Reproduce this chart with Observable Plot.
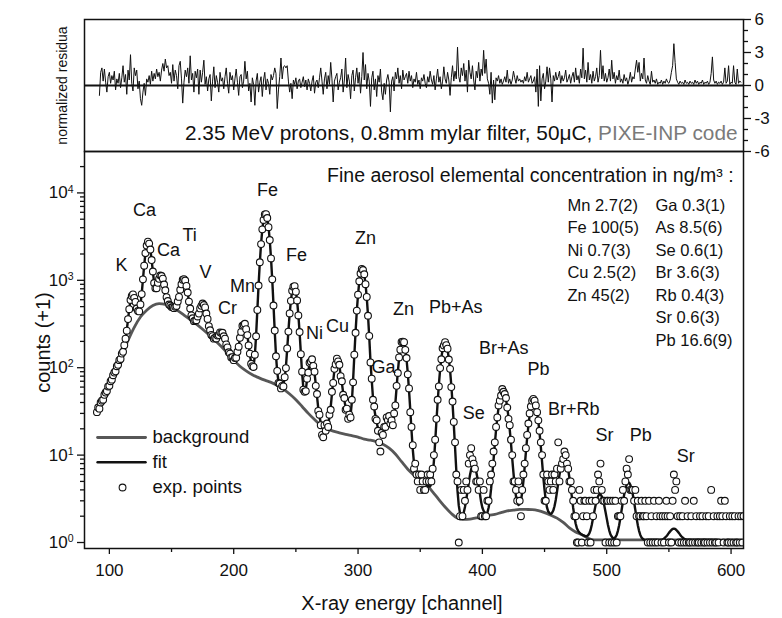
<!DOCTYPE html>
<html>
<head>
<meta charset="utf-8">
<script src="https://cdn.jsdelivr.net/npm/d3@7"></script>
<script src="https://cdn.jsdelivr.net/npm/@observablehq/plot@0.6"></script>
<style>
html,body{margin:0;padding:0;background:#fff;overflow:hidden;}
#chart{position:relative;width:782px;height:618px;background:#fff;}
#chart svg{position:absolute;left:0;top:0;background:transparent;}
</style>
</head>
<body>
<div id="chart"></div>
<script>
// ---------------- DATA ----------------
// experimental points: counts+1 for channels 90..610
const EXP_FIRST_CHANNEL = 90;
const expCounts = [
31,35,34,40,42,43,49,52,54,61,
62,70,73,82,88,91,104,108,122,126,
145,152,181,215,265,360,468,595,662,690,
630,566,476,445,441,530,695,1025,1470,2045,
2500,2770,2630,2250,1705,1262,930,812,812,935,
1040,1135,1118,1046,896,770,642,580,528,515,
494,492,480,497,508,572,646,780,900,1015,
1033,995,862,724,571,476,396,368,341,347,
350,386,416,477,510,542,521,489,417,362,
299,268,237,230,215,220,216,233,236,254,
249,251,229,215,185,171,150,145,131,132,
122,129,130,152,174,220,257,302,309,318,
276,236,180,145,111,104,102,141,229,458,
872,1610,2595,3830,4905,5670,5710,5165,4055,2890,
1780,1025,515,266,135,92,67,66,58,62,
61,78,99,166,259,418,582,760,845,858,
742,588,396,256,143,90,56,53,54,75,
88,114,118,125,105,90,62,50,32,29,
22,17,16,22,19,23,21,29,33,53,
67,97,109,127,118,108,80,70,49,45,
33,34,26,29,27,43,68,141,251,450,
684,975,1195,1348,1310,1173,903,645,393,231,
115,75,43,36,26,25,19,14,11,18,
17,21,21,27,25,28,23,25,22,30,
37,62,87,131,161,197,199,196,160,129,
84,58,31,21,13,7,8,6,5,6,
4,6,5,4,4,5,6,5,6,5,
7,10,15,26,43,61,99,125,167,180,
196,181,165,124,97,60,41,24,14,6,
5,1,2,4,2,4,3,5,4,8,
10,12,9,8,7,5,5,4,5,2,
2,4,2,2,3,3,5,6,8,11,
14,21,27,37,42,48,57,53,50,45,
35,26,22,15,10,5,5,4,3,5,
3,2,4,6,8,12,17,23,30,36,
42,44,42,37,31,25,19,14,10,6,
3,3,6,5,4,5,6,4,6,5,
7,14,5,7,8,9,11,10,8,7,
5,5,4,3,2,2,1,1,4,3,
1,2,3,3,2,1,3,1,3,2,
4,3,4,6,5,8,4,3,3,1,
3,3,1,3,1,3,1,3,1,2,
2,2,3,4,3,5,7,6,9,4,
4,4,3,4,2,3,2,2,3,2,
2,3,2,1,3,1,2,1,3,1,
2,1,3,2,1,2,1,2,3,2,
1,2,1,3,6,4,5,2,1,2,
1,2,1,3,1,2,1,1,2,1,
3,1,2,1,1,2,1,2,1,1,
2,1,2,1,4,1,2,1,1,2,
1,2,3,2,1,3,2,1,1,2,
1,2,1,2,1,1,2,1,2,1,2
];

// fitted spectrum for channels 90..610
const FIT_FIRST_CHANNEL = 90;
const fitCounts = [
31,33.5,36,38.5,41,44,47.5,51,55,59,
63,68.5,74,80,86.5,93,101,110,119,129,
141,156,178,212,269,356,472,587,668,685,
638,559,483,439,447,525,701,1017,1480,2031,
2513,2757,2646,2238,1713,1250,937,804,820,924,
1048,1127,1124,1038,904,764,649,574,532,510,
499,489,485,490,513,565,653,774,906,1007,
1040,988,868,717,577,470,401,363,346,342,
354,380,422,471,516,537,527,483,422,357,
303,264,241,226,219,216,220,228,240,250,
253,247,233,211,188,168,153,142,134,129,
125,126,133,149,177,216,261,298,313,314,
280,232,183,142,114,101,105,138,233,453,
880,1598,2612,3813,4929,5646,5733,5140,4077,2869,
1794,1012,522,261,139,89,70,63,60,60.5,
64,75,103,162,264,412,589,753,852,851,
749,582,402,251,147,87,59,51,57,72,
91,111,122,121.5,108.5,86.5,65,47,34.5,27.2,
23.7,22,21,20.6,20.6,21.1,22.8,27,35.5,50,
70,93.6,112.5,123,121,105,83,67,52,42,
35.6,31.8,28.4,26.5,28.8,40,71,137,256,443,
692,966,1204,1336,1320,1162,911,637,399,226,
118,72,45.6,34,28,23.7,20.3,17.6,16.8,16.9,
18,19.8,22.5,24.8,26.2,26.1,24.8,23.2,23.4,27.8,
39,59.7,90,127,165,193,203,192,164,125,
87,55,33,19.1,11.7,8.1,6.55,5.84,5.5,5.35,
5.2,5.08,4.96,4.84,4.72,4.6,4.47,4.37,4.39,4.74,
5.8,8.5,13.9,23.9,40,64,95,129,162,184.6,
192.5,184,161,128,94,63,39,22.5,12.4,6.75,
3.9,2.66,2.17,2.02,2.05,2.2,2.55,3.1,3.8,4.8,
5.9,6.9,7.5,7.7,7.3,6.5,5.5,4.5,3.6,2.9,
2.5,2.3,2.2,2.1,2.2,2.5,3.06,4.1,6.0,8.9,
13.4,19.4,26.9,35,43,49.2,52.7,52.7,49.3,43.1,
35.2,27,19.6,13.6,9.1,6.25,4.4,3.4,2.87,2.68,
2.74,3.04,3.7,5.05,7.3,10.8,15.7,21.7,28.3,34.5,
39.2,41.4,40.4,36.6,30.8,24.2,17.8,12.4,8.4,5.6,
4.0,3.0,2.5,2.26,2.17,2.12,2.18,2.32,2.6,3.07,
3.8,4.8,5.9,7.1,8.2,8.9,9.2,8.8,8.0,6.8,
5.5,4.3,3.3,2.5,2.0,1.65,1.46,1.36,1.3,1.26,
1.23,1.21,1.2,1.18,1.18,1.21,1.27,1.39,1.6,1.9,
2.25,2.66,3.05,3.37,3.56,3.56,3.37,3.05,2.66,2.25,
1.89,1.59,1.38,1.24,1.17,1.12,1.12,1.15,1.22,1.36,
1.58,1.91,2.36,2.91,3.52,4.11,4.57,4.83,4.83,4.57,
4.11,3.52,2.91,2.36,1.91,1.58,1.36,1.22,1.14,1.1,
1.08,1.07,1.07,1.07,1.07,1.07,1.07,1.07,1.07,1.07,
1.07,1.07,1.07,1.07,1.07,1.08,1.11,1.14,1.18,1.23,
1.29,1.34,1.39,1.43,1.44,1.43,1.39,1.34,1.29,1.23,
1.18,1.14,1.11,1.09,1.08,1.07,1.07,1.07,1.07,1.07,
1.07,1.07,1.07,1.07,1.07,1.07,1.07,1.07,1.07,1.07,
1.07,1.07,1.07,1.07,1.07,1.07,1.06,1.06,1.06,1.06,
1.06,1.06,1.06,1.06,1.06,1.06,1.06,1.06,1.06,1.06,
1.06,1.06,1.06,1.06,1.06,1.06,1.06,1.06,1.06,1.06,1.06
];

// background curve
const bgChannels = [90,95,100,105,110,115,120,125,130,135,140,145,150,155,160,165,170,175,180,185,190,195,200,205,210,215,220,225,230,235,240,245,250,255,260,265,270,275,280,285,290,295,300,305,310,315,320,325,330,335,340,345,350,355,360,365,370,375,380,385,390,395,400,405,410,415,420,425,430,435,440,445,450,455,460,465,470,475,480,485,490,500,550,585,610];
const bgCounts = [31,44,63,93,140,205,290,380,455,515,540,530,495,450,400,355,315,275,238,205,175,147,122,104,92,83,77,72,68,63,57,50,43,36,30,25.5,22,20,18.8,18,17.3,16.7,16.1,15.2,14.8,14.2,13.3,12,10.3,8.4,6.9,5.9,5.2,4.6,3.8,3.1,2.55,2.15,1.9,1.84,1.85,1.91,1.95,2.05,2.1,2.2,2.3,2.35,2.4,2.39,2.38,2.32,2.2,2.05,1.9,1.7,1.47,1.32,1.23,1.12,1.07,1.07,1.07,1.07,1.06];

// normalized residuals for channels 92..608
const RES_FIRST_CHANNEL = 92;
const residuals = [
-0.9,1.2,1.6,0.4,1.5,0.3,-0.6,0.8,1.2,0.2,
0.9,0.5,1.3,-0.4,0.6,0.2,1.1,-0.2,0.7,1.8,
0.3,1.0,-0.8,1.4,0.5,2.8,0.2,-0.5,1.6,0.9,
1.4,-0.3,0.4,-1.2,-1.8,-0.6,0.2,-0.9,0.6,0.3,
0.9,0.1,1.3,0.4,1.1,0.6,1.5,0.8,1.2,0.4,
1.4,2.0,1.3,2.4,1.6,1.8,0.9,1.2,0.2,1.9,
0.4,1.4,0.9,-0.3,1.8,2.2,0.6,-1.6,0.3,1.4,
0.8,1.6,0.2,2.7,0.5,1.1,-0.6,1.3,0.7,1.5,
-0.8,1.4,0.3,1.2,2.3,0.1,0.8,-0.5,0.6,1.0,
-1.4,0.4,1.7,-0.2,0.9,0.3,-0.6,1.2,0.4,0.7,
-0.3,0.8,1.6,0.2,-0.7,1.2,0.5,0.9,-0.4,0.6,
1.5,0.3,-0.9,0.8,1.0,-0.2,0.4,2.2,0.6,1.3,
-0.5,0.2,-1.5,0.7,0.1,-1.8,0.4,1.1,-0.6,0.3,
0.8,-1.0,0.5,1.2,-0.4,0.6,0.2,-0.8,1.0,0.5,
0.9,1.6,1.1,-2.1,-0.4,0.8,2.5,0.6,1.7,1.8,
1.6,1.8,0.4,-0.6,0.2,-1.2,0.5,0.1,0.7,-0.3,
0.4,0.6,-0.2,0.3,0.8,-0.1,0.5,-0.4,0.6,0.2,
-0.5,0.4,0.9,-0.7,0.3,0.5,-0.2,0.7,1.6,0.4,
-0.8,0.6,1.2,-0.3,0.9,0.1,2.1,0.6,-1.5,0.4,
0.8,1.1,-0.4,0.3,0.7,1.5,-0.6,0.5,2.5,-0.2,
1.0,0.4,-1.2,0.9,1.4,-0.5,0.7,1.6,0.2,1.2,
-0.7,0.8,3.0,0.5,1.9,-0.3,1.1,0.4,-1.9,0.7,
1.3,-0.4,0.6,-1.0,0.9,0.3,1.5,-0.6,-1.3,0.2,
-0.8,0.5,1.0,0.3,-2.4,0.4,0.8,-0.5,1.2,0.6,
1.6,0.2,0.9,-0.3,1.4,0.5,0.8,1.1,0.2,1.3,
0.4,0.9,-0.2,0.6,0.3,1.2,0.1,0.5,-0.3,0.7,
0.4,1.0,0.2,-0.2,0.8,0.3,1.3,0.5,0.1,0.9,
-0.4,0.6,1.5,0.3,0.8,-0.3,0.4,1.7,0.6,0.2,
1.2,0.5,-0.9,0.7,1.8,0.4,1.3,0.6,3.5,0.8,
0.3,1.6,0.9,2.0,0.4,1.4,-0.6,2.3,1.2,0.6,
1.8,0.5,-0.4,1.3,0.7,2.1,0.4,1.5,0.9,3.2,
1.1,2.4,0.6,0.2,-0.8,1.2,-1.6,0.5,-1.3,0.7,
0.4,0.9,0.2,0.6,0.1,0.4,0.8,0.3,1.4,0.2,
0.6,0.1,0.5,1.3,0.7,0.2,0.9,0.4,0.6,0.3,
0.5,0.2,0.8,0.4,1.2,0.3,0.6,0.9,0.2,0.4,
0.8,-0.6,1.5,-1.9,1.8,-1.4,0.6,1.1,-0.3,0.4,
1.7,0.3,1.6,0.6,-1.5,0.9,0.4,1.2,0.5,0.8,
1.3,0.2,0.9,0.4,0.7,1.4,0.3,0.6,1.0,0.2,
0.8,1.2,0.3,1.6,0.5,0.9,0.2,1.5,0.7,3.4,
0.6,1.4,0.3,2.1,0.5,1.0,0.2,1.3,0.4,0.8,
1.6,0.3,0.9,3.2,0.6,1.8,0.4,1.1,0.3,0.7,
1.5,0.4,2.3,0.6,1.2,0.2,0.9,0.5,1.4,0.3,
0.6,0.2,1.0,0.4,0.7,0.1,0.5,1.2,0.3,0.8,
0.6,1.5,2.3,1.2,2.1,0.4,1.1,0.6,2.5,0.5,
0.2,0.9,0.4,0.1,1.3,0.3,0.5,0.2,0.6,0.1,
0.3,0.2,0.5,0.1,0.4,0.2,0.6,0.3,0.2,0.5,
1.2,1.8,3.8,2.1,0.6,0.3,0.1,0.4,0.2,0.3,
0.1,0.5,0.2,0.3,0.1,0.4,0.2,0.3,0.1,0.5,
0.2,0.4,0.1,0.3,0.2,0.5,0.1,0.3,0.2,0.4,
0.1,0.3,1.1,2.6,0.5,0.2,0.4,0.1,0.3,0.2,
0.4,0.1,0.3,1.6,0.2,0.4,1.8,0.1,0.3,0.2,
1.8,0.3,0.1,1.5,0.2,0.4,0.3
];

// peak labels (text, channel, counts at label centre)
const peakNames    = ["K","Ca","Ca","Ti","V","Cr","Mn","Fe","Fe","Ni","Cu","Zn","Zn","Ga","Pb+As","Br+As","Pb","Se","Br+Rb","Sr","Pb","Sr"];
const peakChannels = [109.8,128.3,147.6,164.5,177.3,195,207.1,227.2,250.6,265,283.5,306,336.6,320.5,378.5,417.1,445.2,393,473.4,498.3,527.3,563.5];
const peakLabelY   = [1476,6290,2193,3258,1228,476,849,10650,1923,246,296,3007,463,100.5,489,166,95,29.9,33.2,16.8,16.8,9.6];

// concentration table
const concCol1 = ["Mn 2.7(2)","Fe 100(5)","Ni 0.7(3)","Cu 2.5(2)","Zn 45(2)"];
const concCol2 = ["Ga 0.3(1)","As 8.5(6)","Se 0.6(1)","Br 3.6(3)","Rb 0.4(3)","Sr 0.6(3)","Pb 16.6(9)"];
const concRowY = [7178,3966,2193,1212,670,370,205];

// ticks
const xMajorTicks = [100,200,300,400,500,600];
const xMinorTicks = [150,250,350,450,550];
const yMajorTicks = [1,10,100,1000,10000];
const yMinorTicks = [2,3,4,5,6,7,8,9,20,30,40,50,60,70,80,90,200,300,400,500,600,700,800,900,2000,3000,4000,5000,6000,7000,8000,9000,20000];
const resMajorTicks = [-6,-3,0,3,6];
const resMinorTicks = [-5,-4,-2,-1,1,2,4,5];

// texts
const captionMain = "2.35 MeV protons, 0.8mm mylar filter, 50\u03BCC, ";
const captionCode = "PIXE-INP code";
const concTitle = "Fine aerosol elemental concentration in ng/m\u00B3 :";

// ---------------- BUILD ----------------
const FONT = "'Liberation Sans', Arial, Helvetica, sans-serif";
const X_DOMAIN = [80, 610];
const Y_DOMAIN = [0.854, 29770];
const INK = "#111";

const expData = expCounts.map((v, i) => ({ch: EXP_FIRST_CHANNEL + i, v}));
const fitData = fitCounts.map((v, i) => ({ch: FIT_FIRST_CHANNEL + i, v}));
const bgData = bgChannels.map((c, i) => ({ch: c, v: bgCounts[i]}));
const resData = residuals.map((r, i) => ({ch: RES_FIRST_CHANNEL + i, r}));
const labels = peakNames.map((t, i) => ({t, ch: peakChannels[i], v: peakLabelY[i]}));
const col1 = concCol1.map((t, i) => ({t, v: concRowY[i]}));
const col2 = concCol2.map((t, i) => ({t, v: concRowY[i]}));

const legendBg = [{ch: 90.5, v: 15.9}, {ch: 129.1, v: 15.9}];
const legendFit = [{ch: 90.5, v: 8.3}, {ch: 129.1, v: 8.3}];
const legendDot = [{ch: 110.6, v: 4.26}];
const legendText = [
  {t: "background", ch: 134.7, v: 15.9},
  {t: "fit", ch: 134.7, v: 8.3},
  {t: "exp. points", ch: 134.7, v: 4.26}
];

const spectrum = Plot.plot({
  width: 782, height: 618,
  marginLeft: 84, marginRight: 39, marginTop: 151, marginBottom: 70,
  style: {fontFamily: FONT, fontSize: "16px", color: INK, background: "transparent", overflow: "visible"},
  x: {domain: X_DOMAIN, axis: null},
  y: {type: "log", domain: Y_DOMAIN, axis: null},
  marks: [
    Plot.line(bgData, {x: "ch", y: "v", stroke: "#575757", strokeWidth: 2.8, curve: "monotone-x", clip: true}),
    Plot.line(fitData, {x: "ch", y: "v", stroke: INK, strokeWidth: 2.4, clip: true}),
    Plot.dot(expData, {x: "ch", y: "v", r: 3.4, stroke: INK, strokeWidth: 1.1, fill: "white", clip: true}),
    Plot.frame({stroke: INK, strokeWidth: 1.5}),
    Plot.axisX({ticks: xMajorTicks, tickSize: 6, tickPadding: 9, fontSize: 17, strokeWidth: 1.3, tickFormat: d => String(d), label: null}),
    Plot.axisX({ticks: xMinorTicks, tickSize: 4, strokeWidth: 1.3, tickFormat: () => "", label: null}),
    Plot.axisY({ticks: yMajorTicks, tickSize: 7, tickPadding: 4, fontSize: 17, strokeWidth: 1.3, tickFormat: d => "10^" + Math.round(Math.log10(d)), label: null}),
    Plot.axisY({ticks: yMinorTicks, tickSize: 4, strokeWidth: 1.3, tickFormat: () => "", label: null}),
    Plot.text(labels, {x: "ch", y: "v", text: "t", fontSize: 18, fill: INK}),
    Plot.text([concTitle], {x: 602, y: 15810, text: d => d, textAnchor: "end", fontSize: 19.5, fill: INK}),
    Plot.text(col1, {x: 468.4, y: "v", text: "t", textAnchor: "start", fontSize: 16.5, fill: INK}),
    Plot.text(col2, {x: 539.2, y: "v", text: "t", textAnchor: "start", fontSize: 16.5, fill: INK}),
    Plot.line(legendBg, {x: "ch", y: "v", stroke: "#575757", strokeWidth: 2.8}),
    Plot.line(legendFit, {x: "ch", y: "v", stroke: INK, strokeWidth: 2.4}),
    Plot.dot(legendDot, {x: "ch", y: "v", r: 3.4, stroke: INK, strokeWidth: 1.1, fill: "white"}),
    Plot.text(legendText, {x: "ch", y: "v", text: "t", textAnchor: "start", fontSize: 18.5, fill: INK}),
    Plot.text(["counts (+1)"], {x: 47, y: 194, text: d => d, rotate: -90, fontSize: 20, fill: INK}),
    Plot.text(["X-ray energy [channel]"], {x: 335.3, y: 0.2005, text: d => d, fontSize: 20, fill: INK})
  ]
});

const resid = Plot.plot({
  width: 782, height: 160,
  marginLeft: 84, marginRight: 39, marginTop: 19, marginBottom: 9,
  style: {fontFamily: FONT, fontSize: "16px", color: INK, background: "transparent", overflow: "visible"},
  x: {domain: X_DOMAIN, axis: null},
  y: {domain: [-6, 6], axis: null},
  marks: [
    Plot.ruleY([0], {stroke: INK, strokeWidth: 1.8}),
    Plot.line(resData, {x: "ch", y: "r", stroke: INK, strokeWidth: 1}),
    Plot.frame({stroke: INK, strokeWidth: 1.5}),
    Plot.axisY({anchor: "right", ticks: resMajorTicks, tickSize: 7, tickPadding: 4, fontSize: 17, strokeWidth: 1.3, tickFormat: d => String(d), label: null}),
    Plot.axisY({anchor: "right", ticks: resMinorTicks, tickSize: 4, strokeWidth: 1.3, tickFormat: () => "", label: null}),
    Plot.text(["normalized residua"], {x: 62.3, y: 0, text: d => d, rotate: -90, fontSize: 14, fill: INK}),
    Plot.text([captionMain + captionCode], {x: 605.2, y: -4.36, text: d => d, textAnchor: "end", fontSize: 20.8, fill: INK})
  ]
});

// superscript exponents on log axis labels
d3.select(spectrum).selectAll("text").each(function () {
  const s = this.textContent;
  const m = /^10\^(\d)$/.exec(s);
  if (m) {
    const sel = d3.select(this);
    sel.text("10");
    sel.append("tspan").attr("dy", "-0.55em").attr("font-size", "0.62em").text(m[1]);
  }
});
// grey code name in caption
d3.select(resid).selectAll("text").each(function () {
  if (this.textContent === captionMain + captionCode) {
    const sel = d3.select(this);
    sel.text("");
    sel.append("tspan").text(captionMain);
    sel.append("tspan").attr("fill", "#7a7a7a").text(captionCode);
  }
});

document.getElementById("chart").append(spectrum, resid);
</script>
</body>
</html>
